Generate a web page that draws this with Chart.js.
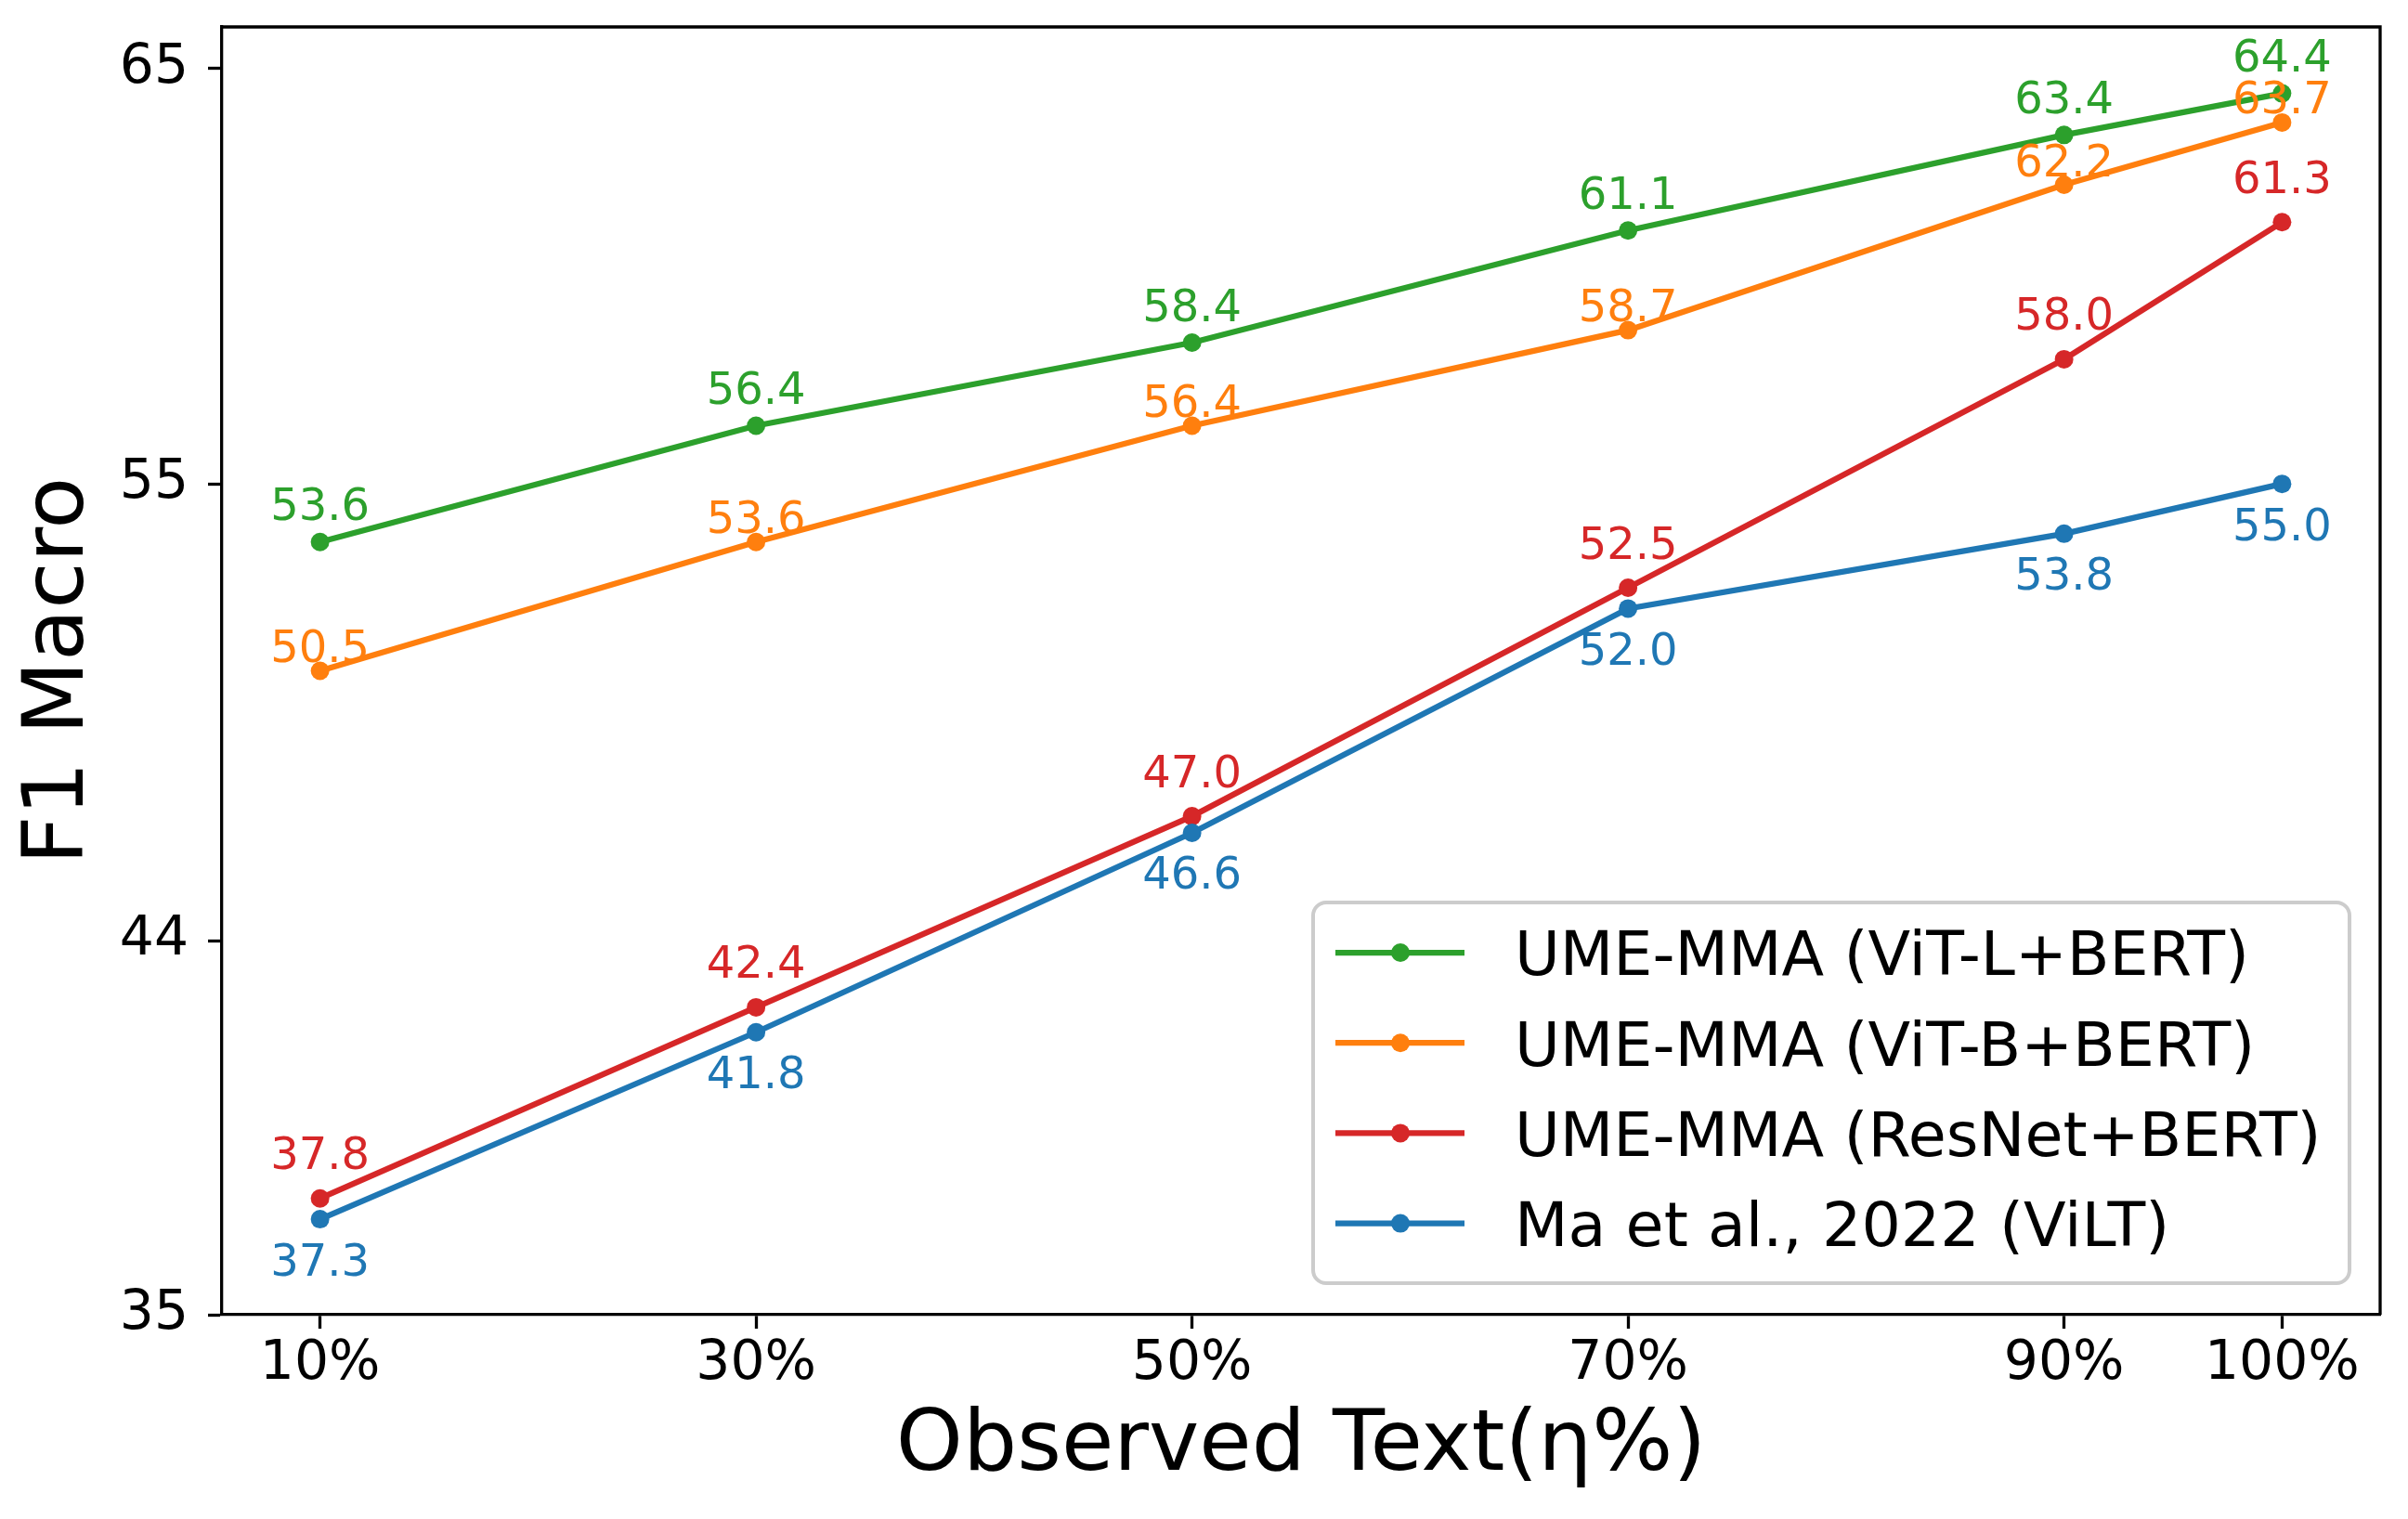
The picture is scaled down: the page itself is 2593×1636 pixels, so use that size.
<!DOCTYPE html>
<html>
<head>
<meta charset="utf-8">
<script src="https://cdn.jsdelivr.net/npm/chart.js@4.4.0/dist/chart.umd.min.js"></script>
<style>
  html, body { margin: 0; padding: 0; background: #fff; overflow: hidden; }
  #wrap { width: 2593px; height: 1636px; }
</style>
</head>
<body>
<div id="wrap"><canvas id="f1chart"></canvas></div>
<script>
// observed text ratio (eta %)
const observed = [10, 30, 50, 70, 90, 100];
const xTickValues = [10, 30, 50, 70, 90, 100];
const yTickValues = [35, 44, 55, 65];

const seriesNames = [
    'UME-MMA (ViT-L+BERT)',
    'UME-MMA (ViT-B+BERT)',
    'UME-MMA (ResNet+BERT)',
    'Ma et al., 2022 (ViLT)'
];

// F1 macro per setting
const vitL   = [53.6, 56.4, 58.4, 61.1, 63.4, 64.4];
const vitB   = [50.5, 53.6, 56.4, 58.7, 62.2, 63.7];
const resnet = [37.8, 42.4, 47.0, 52.5, 58.0, 61.3];
const vilt   = [37.3, 41.8, 46.6, 52.0, 53.8, 55.0];

// matplotlib tab10
const colors = ['#2ca02c', '#ff7f0e', '#d62728', '#1f77b4'];
// vertical offset of the value labels (px, from point to text centre)
const labelOffsets = [-41, -27, -49, 43];

const FONT = "'DejaVu Sans', 'Liberation Sans', sans-serif";

function makeSeries(values, i) {
    return {
        label: seriesNames[i],
        data: observed.map((x, j) => ({ x: x, y: values[j] })),
        borderColor: colors[i],
        backgroundColor: colors[i],
        borderWidth: 6.25,
        pointRadius: 10,
        pointBorderWidth: 0,
        pointBackgroundColor: colors[i],
        tension: 0,
        fill: false,
        order: 4 - i   // later series on top, as in matplotlib
    };
}

// top and right spines
const framePlugin = {
    id: 'frame',
    afterDraw(chart) {
        const { ctx, chartArea: a } = chart;
        ctx.save();
        ctx.strokeStyle = '#000';
        ctx.lineWidth = 3.3;
        ctx.beginPath();
        ctx.moveTo(a.left, a.top);
        ctx.lineTo(a.right, a.top);
        ctx.lineTo(a.right, a.bottom);
        ctx.stroke();
        ctx.restore();
    }
};

// numbers next to each point
const valueLabels = {
    id: 'valueLabels',
    afterDatasetsDraw(chart) {
        const ctx = chart.ctx;
        const size = 48;
        ctx.save();
        ctx.font = size + 'px ' + FONT;
        ctx.textAlign = 'center';
        ctx.textBaseline = 'alphabetic';
        chart.data.datasets.forEach((ds, i) => {
            const meta = chart.getDatasetMeta(i);
            ctx.fillStyle = colors[i];
            meta.data.forEach((pt, j) => {
                const y = pt.y + labelOffsets[i] + 0.3645 * size;
                ctx.fillText(ds.data[j].y.toFixed(1), pt.x, y);
            });
        });
        ctx.restore();
    }
};

// legend box in the lower right, like matplotlib's
const boxLegend = {
    id: 'boxLegend',
    afterDraw(chart) {
        const ctx = chart.ctx;
        const box = { x: 1414, y: 972, w: 1116, h: 410 };
        const size = 66.7;
        ctx.save();
        ctx.beginPath();
        ctx.roundRect(box.x, box.y, box.w, box.h, 14);
        ctx.fillStyle = 'rgba(255,255,255,0.8)';
        ctx.fill();
        ctx.strokeStyle = '#cccccc';
        ctx.lineWidth = 4;
        ctx.stroke();

        ctx.font = size + 'px ' + FONT;
        ctx.textAlign = 'left';
        ctx.textBaseline = 'alphabetic';
        chart.data.datasets.forEach((ds, i) => {
            const cy = 1026 + i * 97.2;
            ctx.strokeStyle = colors[i];
            ctx.lineWidth = 6.25;
            ctx.beginPath();
            ctx.moveTo(1438, cy);
            ctx.lineTo(1577, cy);
            ctx.stroke();
            ctx.fillStyle = colors[i];
            ctx.beginPath();
            ctx.arc(1508, cy, 10, 0, Math.PI * 2);
            ctx.fill();
            ctx.fillStyle = '#000';
            ctx.fillText(ds.label, 1631, cy + 0.3645 * size);
        });
        ctx.restore();
    }
};

new Chart(document.getElementById('f1chart'), {
    type: 'line',
    data: {
        datasets: [vitL, vitB, resnet, vilt].map(makeSeries)
    },
    options: {
        responsive: true,
        maintainAspectRatio: false,
        devicePixelRatio: 1,
        animation: false,
        events: [],
        layout: { padding: { top: 29, right: 30, left: 0, bottom: 0 } },
        plugins: {
            legend: { display: false },
            tooltip: { enabled: false }
        },
        scales: {
            x: {
                type: 'linear',
                min: 5.5,
                max: 104.5,
                afterBuildTicks: s => { s.ticks = xTickValues.map(v => ({ value: v })); },
                afterFit: s => {
                    s.height = 220;
                    s.paddingLeft = 0;
                    s.paddingRight = 0;
                },
                ticks: {
                    callback: v => v + '%',
                    color: '#000',
                    padding: 4,
                    maxRotation: 0,
                    autoSkip: false,
                    font: { family: FONT, size: 58.3, lineHeight: 1.2 }
                },
                grid: {
                    display: true,
                    drawOnChartArea: false,
                    drawTicks: true,
                    tickLength: 15,
                    tickWidth: 3.3,
                    tickColor: '#000'
                },
                border: { display: true, color: '#000', width: 3.3 },
                title: {
                    display: true,
                    text: 'Observed Text(η%)',
                    color: '#000',
                    font: { family: FONT, size: 91.7, lineHeight: 1 },
                    padding: { top: 0, bottom: 31 }
                }
            },
            y: {
                type: 'linear',
                min: 35,
                max: 66,
                afterBuildTicks: s => { s.ticks = yTickValues.map(v => ({ value: v })); },
                afterFit: s => {
                    s.width = 239;
                    s.paddingTop = 0;
                    s.paddingBottom = 0;
                },
                ticks: {
                    color: '#000',
                    padding: 21,
                    autoSkip: false,
                    font: { family: FONT, size: 58.3 }
                },
                grid: {
                    display: true,
                    drawOnChartArea: false,
                    drawTicks: true,
                    tickLength: 15,
                    tickWidth: 3.3,
                    tickColor: '#000'
                },
                border: { display: true, color: '#000', width: 3.3 },
                title: {
                    display: true,
                    text: 'F1 Macro',
                    color: '#000',
                    font: { family: FONT, size: 91.7, lineHeight: 1 },
                    padding: { top: 19, bottom: 0 }
                }
            }
        }
    },
    plugins: [framePlugin, valueLabels, boxLegend]
});
</script>
</body>
</html>
